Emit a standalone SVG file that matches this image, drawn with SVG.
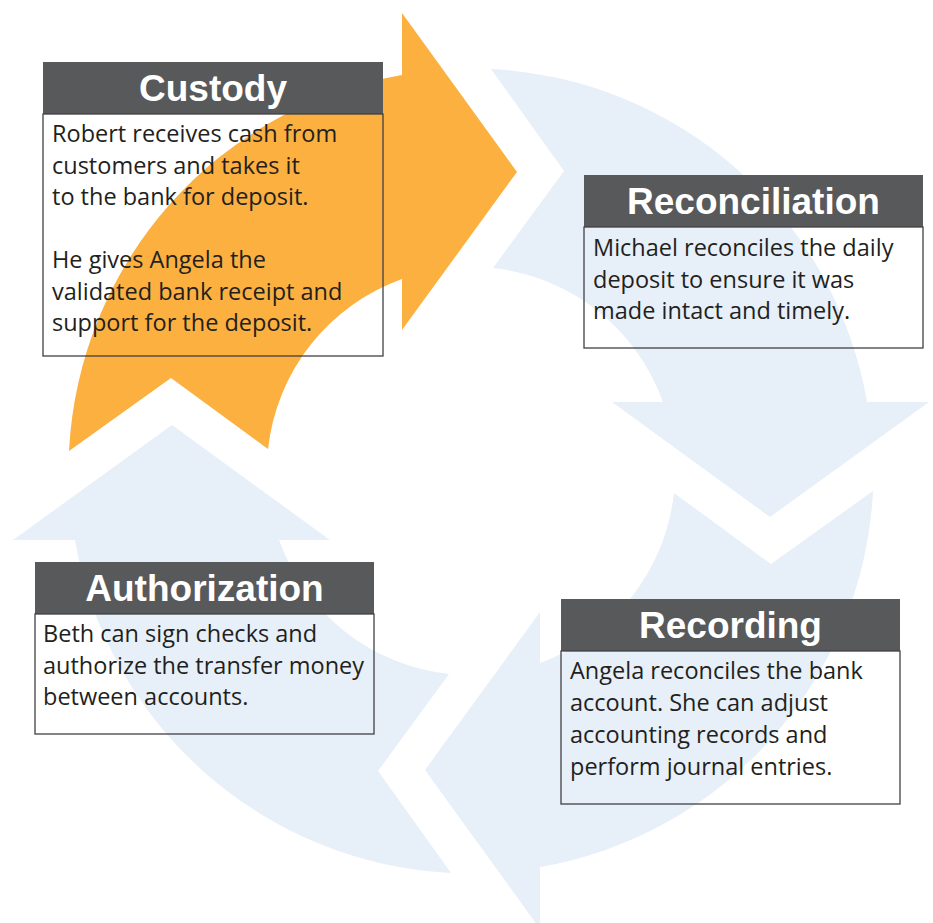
<svg xmlns="http://www.w3.org/2000/svg" xmlns:xlink="http://www.w3.org/1999/xlink" width="933" height="923" viewBox="0 0 933 923">
<style>
.hdr{fill:#58595b}
.body{fill:none;stroke:#414042;stroke-width:1.3}
.title{font-family:"Liberation Sans",Arial,sans-serif;font-weight:bold;font-size:37px;fill:#ffffff;text-anchor:middle}
.txt{font-family:"Open Sans","Noto Sans",sans-serif;font-size:23.5px;fill:#231f20}
.blue{fill:#e7eff9}
.orange{fill:#fbb040}
</style>
<defs>
<path id="arr" d="M402,13 L517,172 L402,330 L402,279 A204,204 0 0 0 268,449 L171,378 L69,451 A402,402 0 0 1 402,75 Z"/>
</defs>
<rect width="933" height="923" fill="#ffffff"/>
<g id="connectors">
<use xlink:href="#arr" class="blue" transform="rotate(90 471 471)"/>
<use xlink:href="#arr" class="blue" transform="rotate(180 471 471)"/>
<use xlink:href="#arr" class="blue" transform="rotate(270 471 471)"/>
<use xlink:href="#arr" class="orange"/>
</g>
<g id="custody">
<rect class="hdr" x="43" y="62" width="340" height="52"/>
<rect class="body" x="43" y="114" width="340" height="242"/>
<text class="title" x="213" y="101">Custody</text>
<text class="txt" x="52" y="142">Robert receives cash from</text>
<text class="txt" x="52" y="173.6">customers and takes it</text>
<text class="txt" x="52" y="205.2">to the bank for deposit.</text>
<text class="txt" x="52" y="268">He gives Angela the</text>
<text class="txt" x="52" y="299.6">validated bank receipt and</text>
<text class="txt" x="52" y="331.2">support for the deposit.</text>
</g>
<g id="reconciliation">
<rect class="hdr" x="584" y="175" width="339" height="52"/>
<rect class="body" x="584" y="227" width="339" height="121"/>
<text class="title" x="753.5" y="214">Reconciliation</text>
<text class="txt" x="593" y="256">Michael reconciles the daily</text>
<text class="txt" x="593" y="287.5">deposit to ensure it was</text>
<text class="txt" x="593" y="319">made intact and timely.</text>
</g>
<g id="authorization">
<rect class="hdr" x="35" y="562" width="339" height="52"/>
<rect class="body" x="35" y="614" width="339" height="120"/>
<text class="title" x="204.5" y="601">Authorization</text>
<text class="txt" x="43" y="642">Beth can sign checks and</text>
<text class="txt" x="43" y="673.5">authorize the transfer money</text>
<text class="txt" x="43" y="705">between accounts.</text>
</g>
<g id="recording">
<rect class="hdr" x="561" y="599" width="339" height="52"/>
<rect class="body" x="561" y="651" width="339" height="153"/>
<text class="title" x="730.5" y="638">Recording</text>
<text class="txt" x="570" y="679">Angela reconciles the bank</text>
<text class="txt" x="570" y="711">account. She can adjust</text>
<text class="txt" x="570" y="743">accounting records and</text>
<text class="txt" x="570" y="775">perform journal entries.</text>
</g>
</svg>
